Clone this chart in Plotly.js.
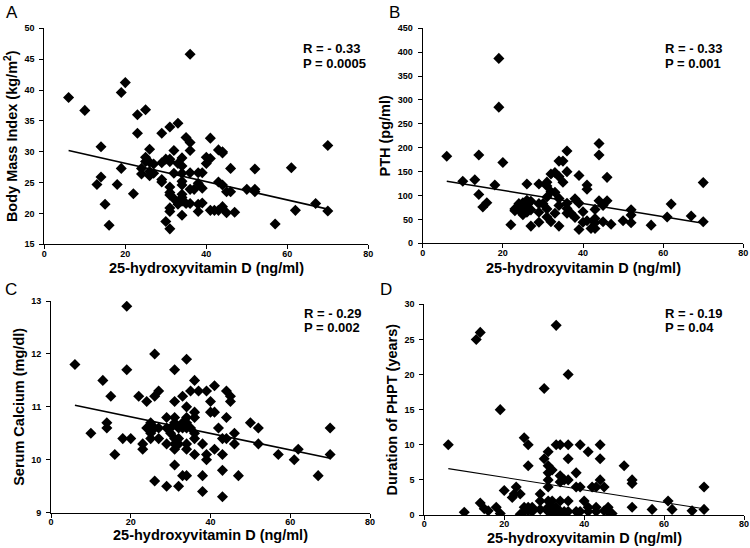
<!DOCTYPE html>
<html>
<head>
<meta charset="utf-8">
<script src="https://cdn.plot.ly/plotly-3.0.1.min.js"></script>
<style>html,body{margin:0;padding:0;background:#fff;}#chart{width:750px;height:548px;}</style>
</head>
<body>
<div id="chart"></div>
<script>
// Panel A: BMI vs 25(OH)D
const aX = [6,10,14,13,14,15,16,18,19,20,19,22,23,23,25,24,24,25,25,26,26,26,26,27,27,29,29,29,29,30,30,31,31,31,31,31,31,31,31,31,32,32,32,33,33,33,34,34,34,34,34,34,34,34,34,35,35,36,36,36,36,36,36,37,38,38,38,38,39,39,39,40,40,41,41,41,42,43,43,43,44,44,44,44,45,45,46,46,47,50,52,52,52,57,61,62,67,70,70];
const aY = [38.8,36.7,30.8,24.7,25.9,21.5,18.1,24.7,39.6,41.2,27.3,23.2,36,33,36.8,27.3,26.4,29.1,28.4,30.4,28.3,26.8,26.1,28,26.5,33,28.2,25.5,25.1,18.7,28.8,34,28.8,28.4,24.3,23.4,23,20.9,20.3,17.5,30.2,26.5,22.4,34.6,28.1,21.5,29,27.7,26.5,25.2,24.6,23.1,22.6,22,19.7,32.3,21.6,45.8,31.5,30.2,26.6,23.9,21.6,23.9,26.6,24.9,21.5,20.3,26.6,24.1,21.7,29.1,28.1,32.2,28.9,20.5,20.5,20.5,25.1,30.3,30,29.8,24.6,21.1,20.1,23.5,27.3,23.5,20.2,23.9,27.2,23.9,23.5,18.3,27.4,20.5,21.6,31,20.4];
// Panel B: PTH vs 25(OH)D
const bX = [6,10,13,14,14,15,16,18,19,19,20,22,23,23,24,24,25,25,25,26,26,26,26,27,27,27,29,29,29,29,30,31,31,31,31,31,32,32,32,33,33,33,34,34,34,34,34,35,35,36,36,36,36,36,37,38,38,39,39,39,40,40,41,41,41,42,43,43,43,43,44,44,44,45,45,46,46,47,50,52,52,52,57,61,62,67,70,70];
const bY = [182,130,133,185,102,76,85,122,387,285,169,39,72,68,83,70,85,60,75,90,80,65,124,70,88,36,124,83,65,44,83,128,120,97,72,55,108,145,45,148,107,63,172,140,94,79,36,172,128,193,150,84,73,63,63,93,54,142,84,29,66,44,122,113,47,31,71,52,43,31,209,185,89,79,45,138,89,40,47,70,59,43,38,55,82,57,127,45];
// Panel C: Serum calcium vs 25(OH)D
const cX = [6,10,13,14,14,15,16,18,19,19,20,22,23,23,24,24,25,25,25,26,26,26,26,27,27,27,29,29,29,29,30,30,31,31,31,31,31,31,31,31,32,32,32,32,33,33,33,33,34,34,34,34,34,34,34,34,35,35,36,36,36,36,36,36,37,38,38,38,39,39,39,40,40,41,41,41,42,43,43,43,43,44,44,44,45,45,46,46,47,50,52,52,57,61,62,67,70,70];
const cY = [11.8,10.5,11.5,10.7,10.6,11.2,10.1,10.4,12.9,11.7,10.4,11.2,10.3,10.2,11.1,10.6,10.7,10.5,10.4,12,11.2,10.6,9.6,11.3,10.6,10.4,10.8,10.6,10.3,9.5,10.6,10.5,11.7,11.1,10.8,10.7,10.4,10.3,10.2,9.9,10.6,10.4,10.3,9.5,11.2,10.7,10.6,9.7,11.9,11,10.8,10.7,10.6,10.3,10.2,9.7,11.3,10.6,11.5,10.9,10.8,10.5,10.4,10.1,11.3,10.3,9.7,9.4,11.3,10.1,10,11.1,10.9,11.4,10.9,10.2,10.6,10.4,10.1,9.8,9.3,11.3,10.8,10.4,11.2,11.1,10.5,10.3,9.7,10.7,10.6,10.3,10.1,10,10.2,9.7,10.6,10.1];
// Panel D: Duration of PHPT vs 25(OH)D
const dX = [6,10,13,14,14,15,16,18,19,19,20,22,22.5,23,24,24,25,25,25,26,26,26,26,27,27,29,29,29,30,30,31,31,31,31,31,31,31,31,32,32,32,32,33,33,33,33,34,34,34,34,34,35,35,36,36,36,36,36,36,38,38,38,39,39,39,40,41,41,41,42,43,43,43,44,44,44,45,45,46,46,47,50,52,52,52,57,61,62,67,70,70];
const dY = [10,0.4,25,26,1.7,0.9,0.6,1.1,15,0.2,3.5,2.5,3,4,3,0.1,11,1.1,0.5,10,7,1.1,0.6,1.1,0.5,3,2,0.8,18,8,9,7,6,5,4,2,1.1,0.5,6.4,2,1.1,0.5,27,10,1.1,0.5,10,5.6,4.7,2,0.5,5,0.5,20,10,8,5,2,0.5,6,4,0.5,10,4,0.5,2,9,1.1,0.5,4,4,1.1,0.5,10,8,5,4,0.6,1.1,0.5,0.2,7,5,4.5,1.1,0.8,2,0.8,0.6,4,0.8];
// Regression line endpoints
const fitX = [6, 70];
const fitA = [30.2, 20.7];
const fitB = [130, 42];
const fitC = [11.03, 10.03];
const fitD = [6.6, 0.9];
const statsText = [
  ['R = - 0.33', 'P = 0.0005'],
  ['R = - 0.33', 'P = 0.001'],
  ['R = - 0.29', 'P = 0.002'],
  ['R = - 0.19', 'P = 0.04']
];
const panelLetters = ['A', 'B', 'C', 'D'];
const yTitles = ['Body Mass Index (kg/m<sup>2</sup>)', 'PTH (pg/ml)', 'Serum Calcium (mg/dl)', 'Duration of PHPT (years)'];
const xTitle = '25-hydroxyvitamin D (ng/ml)';

const FONT = 'Liberation Sans, Arial, sans-serif';
const W = 750, H = 548;
const px = v => v / W;
const py = v => 1 - v / H;

function pts(x, y, xa, ya) {
  return {x: x, y: y, xaxis: xa, yaxis: ya, type: 'scatter', mode: 'markers',
    marker: {symbol: 'diamond', size: 8.5, color: '#000'}, hoverinfo: 'x+y', showlegend: false};
}
function fit(y, xa, ya, w) {
  return {x: fitX, y: y, xaxis: xa, yaxis: ya, type: 'scatter', mode: 'lines',
    line: {color: '#000', width: w}, hoverinfo: 'skip', showlegend: false};
}

const data = [
  pts(aX, aY, 'x', 'y'), fit(fitA, 'x', 'y', 1.6),
  pts(bX, bY, 'x2', 'y2'), fit(fitB, 'x2', 'y2', 1.6),
  pts(cX, cY, 'x3', 'y3'), fit(fitC, 'x3', 'y3', 1.6),
  pts(dX, dY, 'x4', 'y4'), fit(fitD, 'x4', 'y4', 1.1)
];

const tickFont = {family: FONT, size: 9, color: '#000', weight: 'bold'};
const titleFont = {family: FONT, size: 14.5, color: '#000', weight: 'bold'};

function xax(dom, anchor, standoff) {
  return {domain: dom, anchor: anchor, range: [0, 80], dtick: 20, tick0: 0,
    showgrid: false, zeroline: false, showline: true, linecolor: '#000', linewidth: 1,
    ticks: 'outside', ticklen: 4, tickcolor: '#000', tickfont: tickFont, ticklabelstandoff: standoff};
}
function yax(dom, anchor, range, dtick, title) {
  return {domain: dom, anchor: anchor, range: range, dtick: dtick, tick0: range[0],
    showgrid: false, zeroline: false, showline: true, linecolor: '#000', linewidth: 1,
    ticks: 'outside', ticklen: 4, tickcolor: '#000', tickfont: tickFont, ticklabelstandoff: 3,
    title: {text: title, font: titleFont, standoff: 3}};
}

const annotations = [];
const letterPos = [[4, 13], [387, 13], [3, 289], [378, 289]];
panelLetters.forEach((t, i) => {
  annotations.push({text: t, xref: 'paper', yref: 'paper', x: px(letterPos[i][0]), y: py(letterPos[i][1]),
    xanchor: 'left', yanchor: 'middle', showarrow: false, font: {family: FONT, size: 17, color: '#000'}});
});
const statPos = [[301, 49, 64], [663, 48, 64], [302, 313, 327], [663, 313, 327]];
statsText.forEach((s, i) => {
  annotations.push({text: s[0], xref: 'paper', yref: 'paper', x: px(statPos[i][0]), y: py(statPos[i][1]),
    xanchor: 'left', yanchor: 'middle', showarrow: false, font: {family: FONT, size: 13, color: '#000', weight: 'bold'}});
  annotations.push({text: s[1], xref: 'paper', yref: 'paper', x: px(statPos[i][0]), y: py(statPos[i][2]),
    xanchor: 'left', yanchor: 'middle', showarrow: false, font: {family: FONT, size: 13, color: '#000', weight: 'bold'}});
});
// x-axis titles (centered under each plot)
const xTitlePos = [[206.3, 268], [583, 268], [210.5, 535], [584.2, 537.5]];
xTitlePos.forEach(p => {
  annotations.push({text: xTitle, xref: 'paper', yref: 'paper', x: px(p[0]), y: py(p[1]),
    xanchor: 'center', yanchor: 'middle', showarrow: false, font: titleFont});
});

const layout = {
  width: W, height: H,
  margin: {l: 0, r: 0, t: 0, b: 0},
  paper_bgcolor: '#fff', plot_bgcolor: '#fff',
  showlegend: false,
  xaxis: xax([px(44.3), px(368.3)], 'y', -3),
  yaxis: yax([py(244.3), py(28.3)], 'x', [15, 50], 5, yTitles[0]),
  xaxis2: xax([px(422.7), px(743.3)], 'y2', -3),
  yaxis2: yax([py(243.3), py(28.3)], 'x2', [0, 450], 50, yTitles[1]),
  xaxis3: xax([px(51), px(370)], 'y3', -4),
  yaxis3: yax([py(512.7), py(301)], 'x3', [9, 13], 1, yTitles[2]),
  xaxis4: xax([px(424.3), px(744)], 'y4', -4),
  yaxis4: yax([py(515), py(304.3)], 'x4', [0, 30], 5, yTitles[3]),
  annotations: annotations
};

Plotly.newPlot('chart', data, layout, {displayModeBar: false, staticPlot: true});
</script>
</body>
</html>
